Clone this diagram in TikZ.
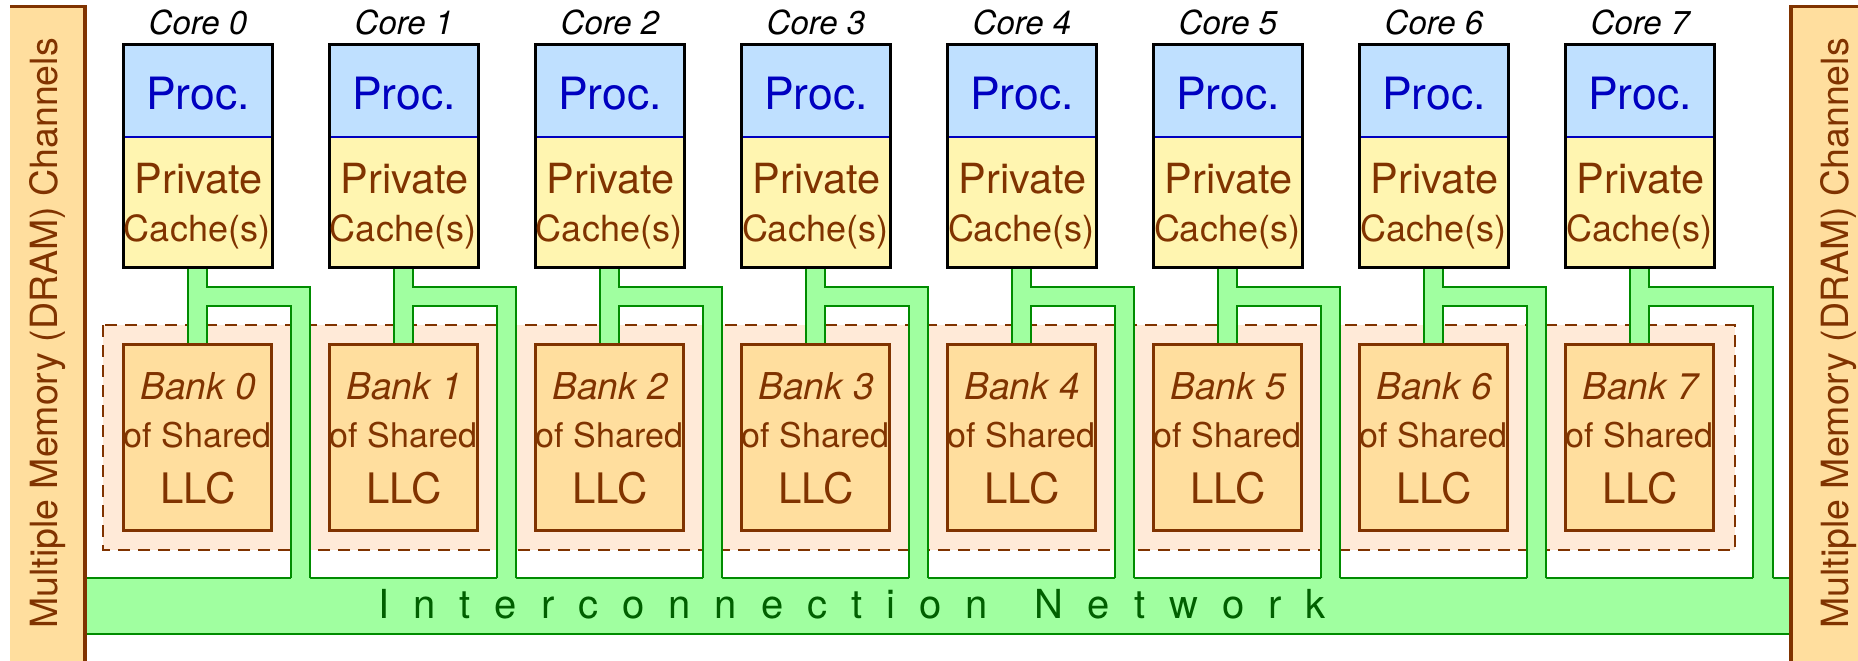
\documentclass[tikz,border=0pt]{standalone}
\usepackage{fontspec}
\setmainfont{TeX Gyre Heros}

\definecolor{brownline}{RGB}{128,51,0}
\definecolor{bankfill}{RGB}{255,222,158}
\definecolor{procfill}{RGB}{191,224,255}
\definecolor{proctext}{RGB}{0,0,192}
\definecolor{cachefill}{RGB}{255,245,176}
\definecolor{netfill}{RGB}{160,255,160}
\definecolor{netline}{RGB}{0,140,0}
\definecolor{nettext}{RGB}{0,96,0}
\definecolor{llcregion}{RGB}{255,234,216}

\newcommand\fs[1]{\fontsize{#1}{#1}\selectfont}
% letter-spaced word
\newcommand\spreadword[1]{\spreadfirst#1\relax}
\def\spreadfirst#1{\ifx\relax#1\else#1\expandafter\spreadrest\fi}
\def\spreadrest#1{\ifx\relax#1\else\hskip24pt\relax #1\expandafter\spreadrest\fi}

\tikzset{
  procbox/.style={rectangle, fill=procfill, minimum width=149pt, minimum height=92.5pt, inner sep=0pt, outer sep=0pt},
  cachebox/.style={rectangle, fill=cachefill, minimum width=149pt, minimum height=130.5pt, inner sep=0pt, outer sep=0pt},
  coreframe/.style={draw=black, line width=3.5pt},
  bankbox/.style={rectangle, draw=brownline, fill=bankfill, line width=3.5pt, minimum width=148pt, minimum height=186pt, inner sep=0pt},
  lbl/.style={anchor=base, inner sep=0pt},
  linkfill/.style={fill=netfill, draw=none},
  linkline/.style={draw=netline, line width=1.8pt},
  dramfill/.style={rectangle, fill=bankfill, inner sep=0pt, outer sep=0pt},
  dramline/.style={draw=brownline, line width=3.5pt},
  dramtext/.style={anchor=base, inner sep=0pt, rotate=90, text=brownline, font=\fs{37.5}},
}

\begin{document}
\begin{tikzpicture}[x=1pt,y=-1pt]
\useasboundingbox (0,0) rectangle (1858,661);

% dashed region holding the LLC banks
\draw[fill=llcregion, draw=brownline, line width=1.6pt, dash pattern=on 12pt off 8pt]
  (103,325) rectangle (1735,550);

% interconnection network bar
\node[rectangle, fill=netfill, minimum width=1704pt, minimum height=56pt, inner sep=0pt] (net) at (938,606) {};
\draw[linkline] (net.north west) -- (net.north east);
\draw[linkline] (net.south west) -- (net.south east);

% per-core links, cores and banks
\foreach \i in {0,...,7}{
  \ifnum\i=7 \def\vl{311}\def\vr{331}\else\def\vl{291}\def\vr{310}\fi
  \begin{scope}[xshift=\i*206]
    \fill[linkfill] (188,266) -- (188,346) -- (207,346) -- (207,306) -- (\vl,306) -- (\vl,579.8)
      -- (\vr,579.8) -- (\vr,287) -- (207,287) -- (207,266) -- cycle;
    \draw[linkline] (188,266) -- (188,346);
    \draw[linkline] (207,346) -- (207,306) -- (\vl,306) -- (\vl,578.1);
    \draw[linkline] (\vr,578.1) -- (\vr,287) -- (207,287) -- (207,266);

    \node[procbox] (proc\i) at (198,90.75) {};
    \node[cachebox] (cache\i) at (198,202.25) {};
    \draw[proctext, line width=1.2pt] (proc\i.south west) -- (proc\i.south east);
    \draw[coreframe] (proc\i.north west) rectangle (cache\i.south east);

    \node[bankbox] (bank\i) at (197.5,437.5) {};

    \node[lbl, font=\fs{33}\itshape] (core\i) at (198,35) {Core \i};
    \node[lbl, font=\fs{44.5}, text=proctext] (proclbl\i) at (198,109) {Proc.};
    \node[lbl, font=\fs{41.5}, text=brownline] (privlbl\i) at (198.5,193) {Private};
    \node[lbl, font=\fs{36}, text=brownline] (cachelbl\i) at (197,241) {Cache(s)};
    \node[lbl, font=\fs{37}\itshape, text=brownline] (banklbl\i) at (198,399) {Bank \i};
    \node[lbl, font=\fs{34}, text=brownline] (sharedlbl\i) at (197.5,447) {of Shared};
    \node[lbl, font=\fs{42}, text=brownline] (llclbl\i) at (198,503) {LLC};
  \end{scope}
}

% memory channel blocks on both sides
\node[dramfill, minimum width=75pt, minimum height=657pt] (dramL) at (47.5,333.5) {};
\draw[dramline] (dramL.north west) ++(0,1.75) -| (dramL.south east);
\node[dramfill, minimum width=67pt, minimum height=657pt] (dramR) at (1824.5,333.5) {};
\draw[dramline] (dramR.north east) ++(0,1.75) -| (dramR.south west);
\node[dramtext] (dramLtext) at (57,333.5) {Multiple Memory (DRAM) Channels};
\node[dramtext] (dramRtext) at (1848,333.5) {Multiple Memory (DRAM) Channels};

% network label
\node[lbl, font=\fs{40}, text=nettext] (netlbl) at (852,618)
  {\spreadword{Interconnection}\hskip47pt\relax\spreadword{Network}};
\end{tikzpicture}
\end{document}
